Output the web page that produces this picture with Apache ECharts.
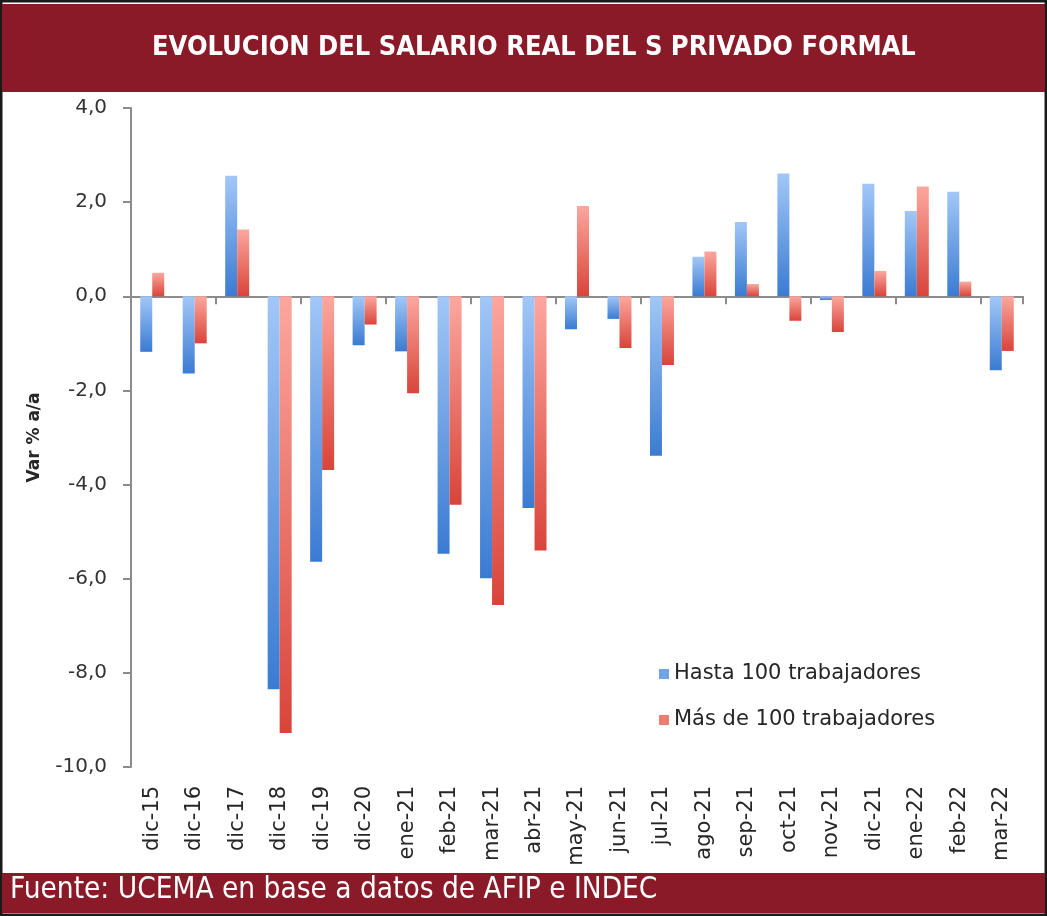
<!DOCTYPE html>
<html>
<head>
<meta charset="utf-8">
<script src="https://cdn.jsdelivr.net/npm/echarts@6/dist/echarts.min.js"></script>
<style>
  html, body { margin: 0; padding: 0; background: #fff; }
  #chart { width: 1047px; height: 916px; }
</style>
</head>
<body>
<div id="chart"></div>
<script>
// Salario real: variacion % a/a por tamaño de empresa
const CATEGORIES = [
  "dic-15", "dic-16", "dic-17", "dic-18", "dic-19", "dic-20", "ene-21",
  "feb-21", "mar-21", "abr-21", "may-21", "jun-21", "jul-21", "ago-21",
  "sep-21", "oct-21", "nov-21", "dic-21", "ene-22", "feb-22", "mar-22",
];
const HASTA_100 = [
  -1.18, -1.64, 2.56, -8.35, -5.64, -1.04, -1.17,
  -5.47, -5.99, -4.5, -0.7, -0.48, -3.39, 0.84,
  1.58, 2.61, -0.08, 2.39, 1.81, 2.22, -1.57,
];
const MAS_100 = [
  0.5, -1.0, 1.42, -9.28, -3.69, -0.6, -2.06,
  -4.43, -6.56, -5.4, 1.92, -1.1, -1.46, 0.95,
  0.26, -0.52, -0.76, 0.54, 2.33, 0.31, -1.16,
];
const SERIES_NAMES = ["Hasta 100 trabajadores", "Más de 100 trabajadores"];
const Y_TICKS = [4, 2, 0, -2, -4, -6, -8, -10];

const BANNER = "#8b1a29";
const TEXT = "#262626";
const AXIS = "#8c8c8c";
const LABEL_FONT = "'DejaVu Sans', Verdana, sans-serif";
const NARROW_FONT = "'Liberation Sans Narrow', 'DejaVu Sans Condensed', sans-serif";

function grad(top, bottom) {
  return new echarts.graphic.LinearGradient(0, 0, 0, 1, [
    { offset: 0, color: top },
    { offset: 1, color: bottom },
  ]);
}

const fmt = (v) => v.toFixed(1).replace(".", ",");

const chart = echarts.init(document.getElementById("chart"));

chart.setOption({
  backgroundColor: "#fff",
  animation: false,
  graphic: [
    {
      type: "rect",
      shape: { x: 1, y: 1, width: 1045, height: 914 },
      style: { fill: "none", stroke: "#1a1a1a", lineWidth: 3 },
      z: 1,
    },
    {
      type: "rect",
      shape: { x: 2, y: 4, width: 1043, height: 88 },
      style: { fill: BANNER },
      z: 2,
    },
    {
      type: "text",
      left: 152,
      top: 34,
      style: {
        text: "EVOLUCION DEL SALARIO REAL DEL S PRIVADO FORMAL",
        fill: "#fff",
        font: "bold 27px " + NARROW_FONT,
      },
      z: 3,
    },
    {
      type: "rect",
      shape: { x: 2, y: 873, width: 1043, height: 40 },
      style: { fill: BANNER },
      z: 2,
    },
    {
      type: "text",
      left: 10,
      top: 875,
      style: {
        text: "Fuente: UCEMA en base a datos de AFIP e INDEC",
        fill: "#fff",
        font: "29.5px " + NARROW_FONT,
      },
      z: 3,
    },
  ],
  legend: {
    orient: "vertical",
    left: 654,
    top: 657,
    itemWidth: 10,
    itemHeight: 10,
    itemGap: 22,
    icon: "rect",
    textStyle: { color: TEXT, fontSize: 21, fontFamily: LABEL_FONT, lineHeight: 24 },
    data: [
      { name: SERIES_NAMES[0], itemStyle: { color: "#6fa4ea" } },
      { name: SERIES_NAMES[1], itemStyle: { color: "#ee7d73" } },
    ],
  },
  grid: { left: 131, right: 24, top: 108, bottom: 149 },
  xAxis: [
    {
      type: "category",
      data: CATEGORIES,
      position: "bottom",
      axisLine: { show: false, onZero: false },
      axisTick: { show: false },
      axisLabel: {
        rotate: 90,
        margin: 19,
        color: TEXT,
        fontSize: 21,
        fontFamily: LABEL_FONT,
        interval: 0,
      },
    },
    {
      type: "category",
      data: CATEGORIES,
      position: "bottom",
      axisLine: { show: true, onZero: true, lineStyle: { color: AXIS, width: 2 } },
      axisTick: { show: true, inside: false, length: 8, lineStyle: { color: AXIS, width: 2 } },
      axisLabel: { show: false },
    },
  ],
  yAxis: {
    type: "value",
    min: -10,
    max: 4,
    interval: 2,
    name: "Var % a/a",
    nameLocation: "middle",
    nameRotate: 90,
    nameGap: 88,
    nameTextStyle: { color: TEXT, fontSize: 17, fontWeight: "bold", fontFamily: LABEL_FONT },
    axisLine: { show: true, lineStyle: { color: AXIS, width: 2 } },
    axisTick: { show: true, length: 8, lineStyle: { color: AXIS, width: 2 } },
    splitLine: { show: false },
    axisLabel: {
      color: "#333",
      fontSize: 20,
      fontFamily: LABEL_FONT,
      margin: 24,
      formatter: (v) => (Y_TICKS.includes(v) ? fmt(v) : ""),
    },
  },
  series: [
    {
      name: SERIES_NAMES[0],
      type: "bar",
      xAxisIndex: 0,
      barWidth: 12,
      barGap: "0%",
      data: HASTA_100,
      itemStyle: { color: grad("#a2c7f7", "#3a7bd2") },
    },
    {
      name: SERIES_NAMES[1],
      type: "bar",
      xAxisIndex: 0,
      barWidth: 12,
      barGap: "0%",
      data: MAS_100,
      itemStyle: { color: grad("#fca79e", "#d9443a") },
    },
  ],
});
</script>
</body>
</html>
